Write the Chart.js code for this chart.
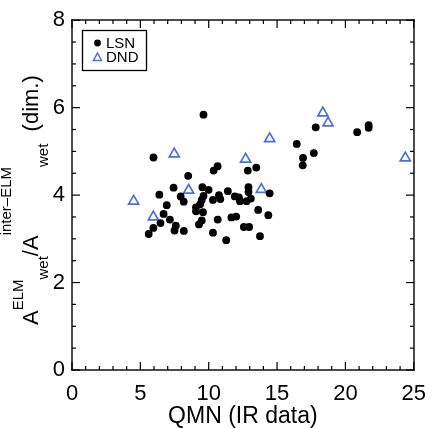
<!DOCTYPE html>
<html><head><meta charset="utf-8">
<script src="https://cdn.jsdelivr.net/npm/chart.js@4.4.1/dist/chart.umd.min.js"></script>
<style>html,body{margin:0;padding:0;background:#fff;overflow:hidden}</style>
</head><body>
<canvas id="c" width="437" height="428" style="display:block;width:437px;height:428px"></canvas>
<script>
// ---- data ----
const lsnX = [5.96, 9.62, 10.65, 10.36, 8.50, 12.86, 13.48, 7.43, 6.39, 7.95, 8.17, 9.54, 9.99, 9.62, 9.49, 9.37, 9.07, 9.07, 9.58, 10.75, 10.85, 10.31, 11.40, 11.91, 12.21, 12.29, 12.77, 13.08, 12.91, 12.91, 14.46, 13.62, 14.36, 6.93, 6.70, 7.16, 6.47, 5.95, 5.61, 7.59, 7.50, 8.18, 9.29, 9.49, 10.66, 10.31, 11.28, 11.66, 12.01, 12.57, 12.96, 13.75, 16.44, 17.69, 16.90, 16.88, 17.83, 20.86, 21.70, 21.70];
const lsnY = [4.86, 5.84, 4.66, 4.56, 4.44, 4.56, 4.63, 4.17, 4.01, 3.97, 3.85, 4.18, 4.12, 3.98, 3.89, 3.79, 3.72, 3.63, 3.61, 4.00, 3.91, 3.89, 4.09, 3.97, 3.95, 3.86, 3.86, 3.92, 4.18, 4.07, 4.04, 3.66, 3.54, 3.77, 3.57, 3.44, 3.36, 3.25, 3.11, 3.30, 3.19, 3.18, 3.33, 3.42, 3.44, 3.14, 2.97, 3.49, 3.51, 3.27, 3.27, 3.06, 5.17, 4.96, 4.85, 4.68, 5.55, 5.44, 5.60, 5.54];
const dndX = [4.51, 5.95, 7.48, 8.53, 12.70, 13.85, 14.46, 18.35, 18.73, 24.38];
const dndY = [3.86, 3.50, 4.94, 4.11, 4.82, 4.13, 5.29, 5.88, 5.65, 4.85];
const seriesNames = ['LSN', 'DND'];
const xTickValues = [0, 5, 10, 15, 20, 25];
const yTickValues = [0, 2, 4, 6, 8];
const xMinorTicks = [1, 2, 3, 4, 6, 7, 8, 9, 11, 12, 13, 14, 16, 17, 18, 19, 21, 22, 23, 24];
const yMinorTicks = [0.5, 1, 1.5, 2.5, 3, 3.5, 4.5, 5, 5.5, 6.5, 7, 7.5];
const xTitle = 'QMN (IR data)';
// y title pieces: [text, baseline shift]  0 = normal, negative = raised, positive = lowered
const yTitleParts = [['A', 0], ['ELM', -15], ['wet', 10], ['/A', 0], ['inter\u2013ELM', -27], ['wet', 10], ['  (dim.)', 0]];

const FONT = '"Liberation Sans", Arial, Helvetica, sans-serif';
const BLUE = '#4a6ee0';

const pts = (xs, ys) => xs.map((x, i) => ({x: x, y: ys[i]}));

const framePlugin = {
  id: 'frame',
  afterDraw(chart) {
    const {ctx, chartArea: a, scales: {x, y}} = chart;
    ctx.save();
    ctx.fillStyle = '#000';
    const T = 1.2;
    const L = Math.round(a.left), R = Math.round(a.right), TP = Math.round(a.top), B = Math.round(a.bottom);
    // frame
    ctx.fillRect(L - 0.7, TP - 0.7, R - L + 1.4, 1.4);
    ctx.fillRect(L - 0.7, B - 0.7, R - L + 1.4, 1.4);
    ctx.fillRect(L - 0.7, TP - 0.7, 1.4, B - TP + 1.4);
    ctx.fillRect(R - 0.7, TP - 0.7, 1.4, B - TP + 1.4);
    const xt = (v, len) => {
      const px = x.getPixelForValue(v);
      ctx.fillRect(px - T / 2, B - len, T, len);
      ctx.fillRect(px - T / 2, TP, T, len);
    };
    const yt = (v, len) => {
      const py = y.getPixelForValue(v);
      ctx.fillRect(L, py - T / 2, len, T);
      ctx.fillRect(R - len, py - T / 2, len, T);
    };
    xTickValues.forEach(v => xt(v, 8));
    xMinorTicks.forEach(v => xt(v, 4));
    yTickValues.forEach(v => yt(v, 8));
    yMinorTicks.forEach(v => yt(v, 4));

    // x title
    ctx.font = '23px ' + FONT;
    ctx.textAlign = 'center';
    ctx.textBaseline = 'alphabetic';
    ctx.fillText(xTitle, (a.left + a.right) / 2, 423);

    // y title (rotated, with super/subscripts)
    ctx.save();
    ctx.translate(38, 325);
    ctx.rotate(-Math.PI / 2);
    ctx.textAlign = 'left';
    let pos = 0;
    const big = '22px ' + FONT, small = '15px ' + FONT;
    for (const [t, shift] of yTitleParts) {
      ctx.font = shift === 0 ? big : small;
      ctx.fillText(t, pos, shift);
      pos += ctx.measureText(t).width;
    }
    ctx.restore();

    // legend
    const lx = 82, ly = 30, lw = 64, lh = 40;
    ctx.fillStyle = '#fff';
    ctx.fillRect(lx, ly, lw, lh);
    ctx.lineWidth = 1.3;
    ctx.strokeStyle = '#000';
    ctx.strokeRect(lx + 0.5, ly + 0.5, lw, lh);
    ctx.fillStyle = '#000';
    ctx.beginPath(); ctx.arc(97.5, 43, 3.4, 0, Math.PI * 2); ctx.fill();
    ctx.strokeStyle = BLUE; ctx.lineWidth = 1.5;
    ctx.beginPath();
    ctx.moveTo(97.5, 53); ctx.lineTo(101.5, 60.5); ctx.lineTo(93.5, 60.5); ctx.closePath(); ctx.stroke();
    ctx.fillStyle = '#000';
    ctx.font = '15px ' + FONT;
    ctx.textAlign = 'left';
    ctx.textBaseline = 'middle';
    ctx.fillText(seriesNames[0], 106, 43.5);
    ctx.fillText(seriesNames[1], 106, 57.5);
    ctx.restore();
  }
};

new Chart(document.getElementById('c'), {
  type: 'scatter',
  data: {
    datasets: [
      {label: seriesNames[0], data: pts(lsnX, lsnY), pointStyle: 'circle', pointRadius: 3.9, pointHoverRadius: 3.9,
       backgroundColor: '#000', borderColor: '#000', borderWidth: 0},
      {label: seriesNames[1], data: pts(dndX, dndY), pointStyle: 'triangle', pointRadius: 5.8, pointHoverRadius: 5.8,
       backgroundColor: 'rgba(255,255,255,0)', borderColor: BLUE, borderWidth: 1.7}
    ]
  },
  options: {
    responsive: false,
    animation: false,
    events: [],
    layout: {padding: {left: 0, top: 15, right: 14, bottom: 0}},
    plugins: {legend: {display: false}, tooltip: {enabled: false}},
    scales: {
      x: {
        type: 'linear', min: 0, max: 25,
        afterFit(s) { s.height = 58; },
        afterBuildTicks(s) { s.ticks = xTickValues.map(v => ({value: v})); },
        grid: {display: false, drawTicks: false},
        border: {display: false},
        ticks: {font: {size: 22, family: FONT}, color: '#000', padding: 11, maxRotation: 0, autoSkip: false}
      },
      y: {
        type: 'linear', min: 0, max: 8,
        afterFit(s) { s.width = 72; },
        afterBuildTicks(s) { s.ticks = yTickValues.map(v => ({value: v})); },
        grid: {display: false, drawTicks: false},
        border: {display: false},
        ticks: {font: {size: 22, family: FONT}, color: '#000', padding: 7, autoSkip: false}
      }
    }
  },
  plugins: [framePlugin]
});
</script>
</body></html>
